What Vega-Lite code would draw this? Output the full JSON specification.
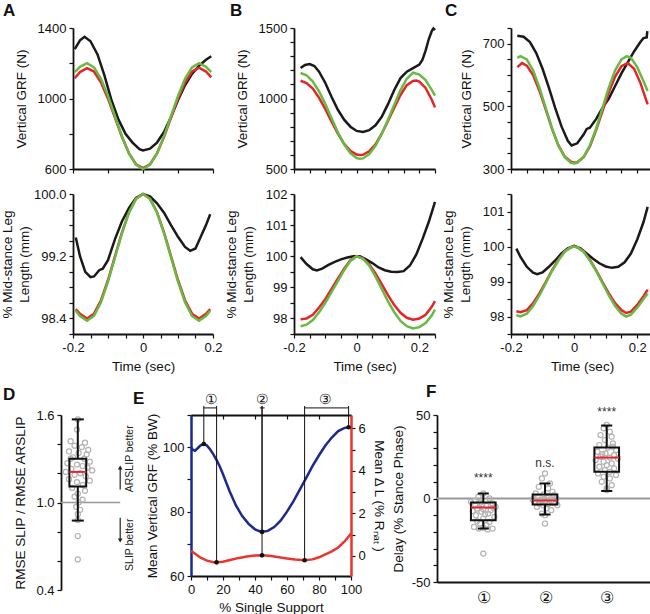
{
"$schema":"https://vega.github.io/schema/vega-lite/v6.json",
"padding":{"left":0,"top":2,"right":0,"bottom":0},
"config":{"font":"Liberation Sans","view":{"stroke":null},
"axis":{"grid":false,"domainColor":"#111","domainWidth":1.8,"tickColor":"#111","tickWidth":1.2,"tickSize":4,"labelFontSize":13,"labelColor":"#111","titleFontSize":13.5,"titleFontWeight":"normal","titleColor":"#111","labelOverlap":false,"labelFlush":false,"labelPadding":3,"titlePadding":8},
"title":{"fontSize":17,"fontWeight":"bold","anchor":"start","frame":"group","color":"#111"}},
"datasets":{"curves":[
{"p":"A","r":"g","s":"E","t":-0.195,"v":1280},{"p":"A","r":"g","s":"E","t":-0.18,"v":1330},{"p":"A","r":"g","s":"E","t":-0.167,"v":1350},{"p":"A","r":"g","s":"E","t":-0.15,"v":1325},{"p":"A","r":"g","s":"E","t":-0.13,"v":1250},{"p":"A","r":"g","s":"E","t":-0.11,"v":1130},{"p":"A","r":"g","s":"E","t":-0.09,"v":990},{"p":"A","r":"g","s":"E","t":-0.07,"v":880},{"p":"A","r":"g","s":"E","t":-0.05,"v":800},{"p":"A","r":"g","s":"E","t":-0.03,"v":750},{"p":"A","r":"g","s":"E","t":-0.01,"v":712},{"p":"A","r":"g","s":"E","t":0,"v":705},{"p":"A","r":"g","s":"E","t":0.02,"v":715},{"p":"A","r":"g","s":"E","t":0.04,"v":750},{"p":"A","r":"g","s":"E","t":0.06,"v":810},{"p":"A","r":"g","s":"E","t":0.08,"v":895},{"p":"A","r":"g","s":"E","t":0.1,"v":990},{"p":"A","r":"g","s":"E","t":0.12,"v":1075},{"p":"A","r":"g","s":"E","t":0.14,"v":1140},{"p":"A","r":"g","s":"E","t":0.16,"v":1185},{"p":"A","r":"g","s":"E","t":0.18,"v":1220},{"p":"A","r":"g","s":"E","t":0.195,"v":1240},
{"p":"A","r":"g","s":"R","t":-0.195,"v":1115},{"p":"A","r":"g","s":"R","t":-0.18,"v":1150},{"p":"A","r":"g","s":"R","t":-0.16,"v":1172},{"p":"A","r":"g","s":"R","t":-0.14,"v":1153},{"p":"A","r":"g","s":"R","t":-0.12,"v":1091},{"p":"A","r":"g","s":"R","t":-0.1,"v":999},{"p":"A","r":"g","s":"R","t":-0.08,"v":890},{"p":"A","r":"g","s":"R","t":-0.06,"v":781},{"p":"A","r":"g","s":"R","t":-0.04,"v":689},{"p":"A","r":"g","s":"R","t":-0.02,"v":627},{"p":"A","r":"g","s":"R","t":0,"v":605},{"p":"A","r":"g","s":"R","t":0.02,"v":627},{"p":"A","r":"g","s":"R","t":0.04,"v":689},{"p":"A","r":"g","s":"R","t":0.06,"v":781},{"p":"A","r":"g","s":"R","t":0.08,"v":890},{"p":"A","r":"g","s":"R","t":0.1,"v":999},{"p":"A","r":"g","s":"R","t":0.12,"v":1091},{"p":"A","r":"g","s":"R","t":0.14,"v":1153},{"p":"A","r":"g","s":"R","t":0.16,"v":1175},{"p":"A","r":"g","s":"R","t":0.18,"v":1153},{"p":"A","r":"g","s":"R","t":0.195,"v":1120},
{"p":"A","r":"g","s":"G","t":-0.195,"v":1150},{"p":"A","r":"g","s":"G","t":-0.18,"v":1180},{"p":"A","r":"g","s":"G","t":-0.16,"v":1200},{"p":"A","r":"g","s":"G","t":-0.14,"v":1177},{"p":"A","r":"g","s":"G","t":-0.12,"v":1112},{"p":"A","r":"g","s":"G","t":-0.1,"v":1015},{"p":"A","r":"g","s":"G","t":-0.08,"v":900},{"p":"A","r":"g","s":"G","t":-0.06,"v":785},{"p":"A","r":"g","s":"G","t":-0.04,"v":688},{"p":"A","r":"g","s":"G","t":-0.02,"v":623},{"p":"A","r":"g","s":"G","t":0,"v":600},{"p":"A","r":"g","s":"G","t":0.02,"v":623},{"p":"A","r":"g","s":"G","t":0.04,"v":688},{"p":"A","r":"g","s":"G","t":0.06,"v":785},{"p":"A","r":"g","s":"G","t":0.08,"v":900},{"p":"A","r":"g","s":"G","t":0.1,"v":1015},{"p":"A","r":"g","s":"G","t":0.12,"v":1112},{"p":"A","r":"g","s":"G","t":0.14,"v":1177},{"p":"A","r":"g","s":"G","t":0.16,"v":1200},{"p":"A","r":"g","s":"G","t":0.18,"v":1180},{"p":"A","r":"g","s":"G","t":0.195,"v":1150},
{"p":"A","r":"l","s":"E","t":-0.192,"v":99.44},{"p":"A","r":"l","s":"E","t":-0.18,"v":99.2},{"p":"A","r":"l","s":"E","t":-0.165,"v":99.0},{"p":"A","r":"l","s":"E","t":-0.15,"v":98.93},{"p":"A","r":"l","s":"E","t":-0.14,"v":98.94},{"p":"A","r":"l","s":"E","t":-0.125,"v":99.02},{"p":"A","r":"l","s":"E","t":-0.115,"v":99.04},{"p":"A","r":"l","s":"E","t":-0.1,"v":99.15},{"p":"A","r":"l","s":"E","t":-0.08,"v":99.42},{"p":"A","r":"l","s":"E","t":-0.06,"v":99.65},{"p":"A","r":"l","s":"E","t":-0.04,"v":99.82},{"p":"A","r":"l","s":"E","t":-0.02,"v":99.95},{"p":"A","r":"l","s":"E","t":0,"v":100.0},{"p":"A","r":"l","s":"E","t":0.02,"v":99.97},{"p":"A","r":"l","s":"E","t":0.04,"v":99.88},{"p":"A","r":"l","s":"E","t":0.06,"v":99.76},{"p":"A","r":"l","s":"E","t":0.08,"v":99.6},{"p":"A","r":"l","s":"E","t":0.1,"v":99.45},{"p":"A","r":"l","s":"E","t":0.12,"v":99.32},{"p":"A","r":"l","s":"E","t":0.135,"v":99.27},{"p":"A","r":"l","s":"E","t":0.15,"v":99.3},{"p":"A","r":"l","s":"E","t":0.165,"v":99.45},{"p":"A","r":"l","s":"E","t":0.18,"v":99.6},{"p":"A","r":"l","s":"E","t":0.192,"v":99.74},
{"p":"A","r":"l","s":"R","t":-0.192,"v":98.52},{"p":"A","r":"l","s":"R","t":-0.18,"v":98.46},{"p":"A","r":"l","s":"R","t":-0.16,"v":98.4},{"p":"A","r":"l","s":"R","t":-0.14,"v":98.461},{"p":"A","r":"l","s":"R","t":-0.12,"v":98.634},{"p":"A","r":"l","s":"R","t":-0.1,"v":98.894},{"p":"A","r":"l","s":"R","t":-0.08,"v":99.2},{"p":"A","r":"l","s":"R","t":-0.06,"v":99.506},{"p":"A","r":"l","s":"R","t":-0.04,"v":99.766},{"p":"A","r":"l","s":"R","t":-0.02,"v":99.939},{"p":"A","r":"l","s":"R","t":0,"v":100},{"p":"A","r":"l","s":"R","t":0.02,"v":99.939},{"p":"A","r":"l","s":"R","t":0.04,"v":99.766},{"p":"A","r":"l","s":"R","t":0.06,"v":99.506},{"p":"A","r":"l","s":"R","t":0.08,"v":99.2},{"p":"A","r":"l","s":"R","t":0.1,"v":98.894},{"p":"A","r":"l","s":"R","t":0.12,"v":98.634},{"p":"A","r":"l","s":"R","t":0.14,"v":98.461},{"p":"A","r":"l","s":"R","t":0.16,"v":98.4},{"p":"A","r":"l","s":"R","t":0.18,"v":98.46},{"p":"A","r":"l","s":"R","t":0.192,"v":98.52},
{"p":"A","r":"l","s":"G","t":-0.192,"v":98.5},{"p":"A","r":"l","s":"G","t":-0.18,"v":98.43},{"p":"A","r":"l","s":"G","t":-0.16,"v":98.37},{"p":"A","r":"l","s":"G","t":-0.14,"v":98.432},{"p":"A","r":"l","s":"G","t":-0.12,"v":98.609},{"p":"A","r":"l","s":"G","t":-0.1,"v":98.873},{"p":"A","r":"l","s":"G","t":-0.08,"v":99.185},{"p":"A","r":"l","s":"G","t":-0.06,"v":99.497},{"p":"A","r":"l","s":"G","t":-0.04,"v":99.761},{"p":"A","r":"l","s":"G","t":-0.02,"v":99.938},{"p":"A","r":"l","s":"G","t":0,"v":100},{"p":"A","r":"l","s":"G","t":0.02,"v":99.938},{"p":"A","r":"l","s":"G","t":0.04,"v":99.761},{"p":"A","r":"l","s":"G","t":0.06,"v":99.497},{"p":"A","r":"l","s":"G","t":0.08,"v":99.185},{"p":"A","r":"l","s":"G","t":0.1,"v":98.873},{"p":"A","r":"l","s":"G","t":0.12,"v":98.609},{"p":"A","r":"l","s":"G","t":0.14,"v":98.432},{"p":"A","r":"l","s":"G","t":0.16,"v":98.37},{"p":"A","r":"l","s":"G","t":0.18,"v":98.43},{"p":"A","r":"l","s":"G","t":0.192,"v":98.5},
{"p":"B","r":"g","s":"E","t":-0.179,"v":1216},{"p":"B","r":"g","s":"E","t":-0.165,"v":1238},{"p":"B","r":"g","s":"E","t":-0.15,"v":1244},{"p":"B","r":"g","s":"E","t":-0.135,"v":1230},{"p":"B","r":"g","s":"E","t":-0.12,"v":1190},{"p":"B","r":"g","s":"E","t":-0.1,"v":1110},{"p":"B","r":"g","s":"E","t":-0.08,"v":1010},{"p":"B","r":"g","s":"E","t":-0.06,"v":920},{"p":"B","r":"g","s":"E","t":-0.04,"v":850},{"p":"B","r":"g","s":"E","t":-0.02,"v":800},{"p":"B","r":"g","s":"E","t":0,"v":770},{"p":"B","r":"g","s":"E","t":0.02,"v":762},{"p":"B","r":"g","s":"E","t":0.04,"v":775},{"p":"B","r":"g","s":"E","t":0.06,"v":810},{"p":"B","r":"g","s":"E","t":0.08,"v":870},{"p":"B","r":"g","s":"E","t":0.1,"v":960},{"p":"B","r":"g","s":"E","t":0.12,"v":1060},{"p":"B","r":"g","s":"E","t":0.14,"v":1145},{"p":"B","r":"g","s":"E","t":0.16,"v":1190},{"p":"B","r":"g","s":"E","t":0.18,"v":1215},{"p":"B","r":"g","s":"E","t":0.2,"v":1240},{"p":"B","r":"g","s":"E","t":0.21,"v":1275},{"p":"B","r":"g","s":"E","t":0.22,"v":1340},{"p":"B","r":"g","s":"E","t":0.23,"v":1420},{"p":"B","r":"g","s":"E","t":0.24,"v":1480},{"p":"B","r":"g","s":"E","t":0.245,"v":1497},{"p":"B","r":"g","s":"E","t":0.25,"v":1485},
{"p":"B","r":"g","s":"R","t":-0.179,"v":1126},{"p":"B","r":"g","s":"R","t":-0.16,"v":1110},{"p":"B","r":"g","s":"R","t":-0.14,"v":1070},{"p":"B","r":"g","s":"R","t":-0.12,"v":1005},{"p":"B","r":"g","s":"R","t":-0.1,"v":925},{"p":"B","r":"g","s":"R","t":-0.08,"v":835},{"p":"B","r":"g","s":"R","t":-0.06,"v":750},{"p":"B","r":"g","s":"R","t":-0.04,"v":678},{"p":"B","r":"g","s":"R","t":-0.02,"v":628},{"p":"B","r":"g","s":"R","t":0,"v":603},{"p":"B","r":"g","s":"R","t":0.01,"v":599},{"p":"B","r":"g","s":"R","t":0.02,"v":601},{"p":"B","r":"g","s":"R","t":0.04,"v":625},{"p":"B","r":"g","s":"R","t":0.06,"v":675},{"p":"B","r":"g","s":"R","t":0.08,"v":750},{"p":"B","r":"g","s":"R","t":0.1,"v":840},{"p":"B","r":"g","s":"R","t":0.12,"v":935},{"p":"B","r":"g","s":"R","t":0.14,"v":1025},{"p":"B","r":"g","s":"R","t":0.16,"v":1095},{"p":"B","r":"g","s":"R","t":0.18,"v":1125},{"p":"B","r":"g","s":"R","t":0.19,"v":1127},{"p":"B","r":"g","s":"R","t":0.2,"v":1120},{"p":"B","r":"g","s":"R","t":0.22,"v":1075},{"p":"B","r":"g","s":"R","t":0.24,"v":990},{"p":"B","r":"g","s":"R","t":0.25,"v":937},
{"p":"B","r":"g","s":"G","t":-0.179,"v":1181},{"p":"B","r":"g","s":"G","t":-0.16,"v":1165},{"p":"B","r":"g","s":"G","t":-0.14,"v":1120},{"p":"B","r":"g","s":"G","t":-0.12,"v":1050},{"p":"B","r":"g","s":"G","t":-0.1,"v":960},{"p":"B","r":"g","s":"G","t":-0.08,"v":860},{"p":"B","r":"g","s":"G","t":-0.06,"v":760},{"p":"B","r":"g","s":"G","t":-0.04,"v":675},{"p":"B","r":"g","s":"G","t":-0.02,"v":612},{"p":"B","r":"g","s":"G","t":0,"v":578},{"p":"B","r":"g","s":"G","t":0.01,"v":572},{"p":"B","r":"g","s":"G","t":0.02,"v":575},{"p":"B","r":"g","s":"G","t":0.04,"v":605},{"p":"B","r":"g","s":"G","t":0.06,"v":665},{"p":"B","r":"g","s":"G","t":0.08,"v":750},{"p":"B","r":"g","s":"G","t":0.1,"v":850},{"p":"B","r":"g","s":"G","t":0.12,"v":955},{"p":"B","r":"g","s":"G","t":0.14,"v":1060},{"p":"B","r":"g","s":"G","t":0.16,"v":1140},{"p":"B","r":"g","s":"G","t":0.18,"v":1183},{"p":"B","r":"g","s":"G","t":0.2,"v":1170},{"p":"B","r":"g","s":"G","t":0.22,"v":1130},{"p":"B","r":"g","s":"G","t":0.24,"v":1060},{"p":"B","r":"g","s":"G","t":0.25,"v":1020},
{"p":"B","r":"l","s":"E","t":-0.179,"v":99.97},{"p":"B","r":"l","s":"E","t":-0.16,"v":99.75},{"p":"B","r":"l","s":"E","t":-0.14,"v":99.58},{"p":"B","r":"l","s":"E","t":-0.127,"v":99.54},{"p":"B","r":"l","s":"E","t":-0.11,"v":99.6},{"p":"B","r":"l","s":"E","t":-0.09,"v":99.72},{"p":"B","r":"l","s":"E","t":-0.07,"v":99.82},{"p":"B","r":"l","s":"E","t":-0.05,"v":99.9},{"p":"B","r":"l","s":"E","t":-0.03,"v":99.96},{"p":"B","r":"l","s":"E","t":-0.01,"v":100.0},{"p":"B","r":"l","s":"E","t":0.01,"v":100.0},{"p":"B","r":"l","s":"E","t":0.03,"v":99.9},{"p":"B","r":"l","s":"E","t":0.05,"v":99.78},{"p":"B","r":"l","s":"E","t":0.07,"v":99.64},{"p":"B","r":"l","s":"E","t":0.09,"v":99.55},{"p":"B","r":"l","s":"E","t":0.11,"v":99.5},{"p":"B","r":"l","s":"E","t":0.13,"v":99.49},{"p":"B","r":"l","s":"E","t":0.15,"v":99.52},{"p":"B","r":"l","s":"E","t":0.17,"v":99.7},{"p":"B","r":"l","s":"E","t":0.19,"v":100.05},{"p":"B","r":"l","s":"E","t":0.21,"v":100.55},{"p":"B","r":"l","s":"E","t":0.23,"v":101.1},{"p":"B","r":"l","s":"E","t":0.25,"v":101.75},
{"p":"B","r":"l","s":"R","t":-0.179,"v":97.97},{"p":"B","r":"l","s":"R","t":-0.16,"v":98.0},{"p":"B","r":"l","s":"R","t":-0.14,"v":98.12},{"p":"B","r":"l","s":"R","t":-0.12,"v":98.35},{"p":"B","r":"l","s":"R","t":-0.1,"v":98.62},{"p":"B","r":"l","s":"R","t":-0.08,"v":98.95},{"p":"B","r":"l","s":"R","t":-0.06,"v":99.28},{"p":"B","r":"l","s":"R","t":-0.04,"v":99.6},{"p":"B","r":"l","s":"R","t":-0.02,"v":99.87},{"p":"B","r":"l","s":"R","t":0,"v":100},{"p":"B","r":"l","s":"R","t":0.02,"v":99.93},{"p":"B","r":"l","s":"R","t":0.04,"v":99.74},{"p":"B","r":"l","s":"R","t":0.06,"v":99.45},{"p":"B","r":"l","s":"R","t":0.08,"v":99.1},{"p":"B","r":"l","s":"R","t":0.1,"v":98.75},{"p":"B","r":"l","s":"R","t":0.12,"v":98.43},{"p":"B","r":"l","s":"R","t":0.14,"v":98.18},{"p":"B","r":"l","s":"R","t":0.16,"v":98.02},{"p":"B","r":"l","s":"R","t":0.18,"v":97.96},{"p":"B","r":"l","s":"R","t":0.2,"v":98.0},{"p":"B","r":"l","s":"R","t":0.22,"v":98.12},{"p":"B","r":"l","s":"R","t":0.24,"v":98.38},{"p":"B","r":"l","s":"R","t":0.25,"v":98.56},
{"p":"B","r":"l","s":"G","t":-0.179,"v":97.75},{"p":"B","r":"l","s":"G","t":-0.16,"v":97.8},{"p":"B","r":"l","s":"G","t":-0.14,"v":97.95},{"p":"B","r":"l","s":"G","t":-0.12,"v":98.2},{"p":"B","r":"l","s":"G","t":-0.1,"v":98.5},{"p":"B","r":"l","s":"G","t":-0.08,"v":98.85},{"p":"B","r":"l","s":"G","t":-0.06,"v":99.2},{"p":"B","r":"l","s":"G","t":-0.04,"v":99.55},{"p":"B","r":"l","s":"G","t":-0.02,"v":99.85},{"p":"B","r":"l","s":"G","t":0,"v":100},{"p":"B","r":"l","s":"G","t":0.02,"v":99.92},{"p":"B","r":"l","s":"G","t":0.04,"v":99.7},{"p":"B","r":"l","s":"G","t":0.06,"v":99.35},{"p":"B","r":"l","s":"G","t":0.08,"v":98.95},{"p":"B","r":"l","s":"G","t":0.1,"v":98.55},{"p":"B","r":"l","s":"G","t":0.12,"v":98.2},{"p":"B","r":"l","s":"G","t":0.14,"v":97.92},{"p":"B","r":"l","s":"G","t":0.16,"v":97.75},{"p":"B","r":"l","s":"G","t":0.18,"v":97.68},{"p":"B","r":"l","s":"G","t":0.2,"v":97.72},{"p":"B","r":"l","s":"G","t":0.22,"v":97.85},{"p":"B","r":"l","s":"G","t":0.24,"v":98.1},{"p":"B","r":"l","s":"G","t":0.25,"v":98.28},
{"p":"C","r":"g","s":"E","t":-0.18,"v":725},{"p":"C","r":"g","s":"E","t":-0.16,"v":722},{"p":"C","r":"g","s":"E","t":-0.14,"v":705},{"p":"C","r":"g","s":"E","t":-0.12,"v":670},{"p":"C","r":"g","s":"E","t":-0.1,"v":620},{"p":"C","r":"g","s":"E","t":-0.08,"v":560},{"p":"C","r":"g","s":"E","t":-0.06,"v":495},{"p":"C","r":"g","s":"E","t":-0.04,"v":436},{"p":"C","r":"g","s":"E","t":-0.02,"v":390},{"p":"C","r":"g","s":"E","t":-0.008,"v":375},{"p":"C","r":"g","s":"E","t":0.01,"v":382},{"p":"C","r":"g","s":"E","t":0.03,"v":410},{"p":"C","r":"g","s":"E","t":0.04,"v":428},{"p":"C","r":"g","s":"E","t":0.05,"v":432},{"p":"C","r":"g","s":"E","t":0.07,"v":460},{"p":"C","r":"g","s":"E","t":0.09,"v":495},{"p":"C","r":"g","s":"E","t":0.11,"v":525},{"p":"C","r":"g","s":"E","t":0.13,"v":565},{"p":"C","r":"g","s":"E","t":0.15,"v":605},{"p":"C","r":"g","s":"E","t":0.17,"v":640},{"p":"C","r":"g","s":"E","t":0.19,"v":675},{"p":"C","r":"g","s":"E","t":0.21,"v":705},{"p":"C","r":"g","s":"E","t":0.22,"v":718},{"p":"C","r":"g","s":"E","t":0.23,"v":720},{"p":"C","r":"g","s":"E","t":0.232,"v":740},
{"p":"C","r":"g","s":"R","t":-0.18,"v":625},{"p":"C","r":"g","s":"R","t":-0.165,"v":638},{"p":"C","r":"g","s":"R","t":-0.15,"v":630},{"p":"C","r":"g","s":"R","t":-0.13,"v":600},{"p":"C","r":"g","s":"R","t":-0.11,"v":550},{"p":"C","r":"g","s":"R","t":-0.09,"v":490},{"p":"C","r":"g","s":"R","t":-0.07,"v":428},{"p":"C","r":"g","s":"R","t":-0.05,"v":376},{"p":"C","r":"g","s":"R","t":-0.03,"v":340},{"p":"C","r":"g","s":"R","t":-0.01,"v":323},{"p":"C","r":"g","s":"R","t":0,"v":320},{"p":"C","r":"g","s":"R","t":0.01,"v":322},{"p":"C","r":"g","s":"R","t":0.03,"v":338},{"p":"C","r":"g","s":"R","t":0.05,"v":372},{"p":"C","r":"g","s":"R","t":0.07,"v":425},{"p":"C","r":"g","s":"R","t":0.09,"v":485},{"p":"C","r":"g","s":"R","t":0.11,"v":545},{"p":"C","r":"g","s":"R","t":0.13,"v":595},{"p":"C","r":"g","s":"R","t":0.15,"v":628},{"p":"C","r":"g","s":"R","t":0.17,"v":638},{"p":"C","r":"g","s":"R","t":0.19,"v":620},{"p":"C","r":"g","s":"R","t":0.21,"v":575},{"p":"C","r":"g","s":"R","t":0.233,"v":506},
{"p":"C","r":"g","s":"G","t":-0.18,"v":655},{"p":"C","r":"g","s":"G","t":-0.17,"v":660},{"p":"C","r":"g","s":"G","t":-0.15,"v":650},{"p":"C","r":"g","s":"G","t":-0.13,"v":615},{"p":"C","r":"g","s":"G","t":-0.11,"v":560},{"p":"C","r":"g","s":"G","t":-0.09,"v":495},{"p":"C","r":"g","s":"G","t":-0.07,"v":430},{"p":"C","r":"g","s":"G","t":-0.05,"v":375},{"p":"C","r":"g","s":"G","t":-0.03,"v":338},{"p":"C","r":"g","s":"G","t":-0.01,"v":320},{"p":"C","r":"g","s":"G","t":0,"v":318},{"p":"C","r":"g","s":"G","t":0.01,"v":320},{"p":"C","r":"g","s":"G","t":0.03,"v":338},{"p":"C","r":"g","s":"G","t":0.05,"v":375},{"p":"C","r":"g","s":"G","t":0.07,"v":430},{"p":"C","r":"g","s":"G","t":0.09,"v":495},{"p":"C","r":"g","s":"G","t":0.11,"v":560},{"p":"C","r":"g","s":"G","t":0.13,"v":615},{"p":"C","r":"g","s":"G","t":0.15,"v":650},{"p":"C","r":"g","s":"G","t":0.167,"v":660},{"p":"C","r":"g","s":"G","t":0.18,"v":655},{"p":"C","r":"g","s":"G","t":0.2,"v":625},{"p":"C","r":"g","s":"G","t":0.22,"v":580},{"p":"C","r":"g","s":"G","t":0.233,"v":549},
{"p":"C","r":"l","s":"E","t":-0.183,"v":99.94},{"p":"C","r":"l","s":"E","t":-0.17,"v":99.7},{"p":"C","r":"l","s":"E","t":-0.15,"v":99.42},{"p":"C","r":"l","s":"E","t":-0.13,"v":99.25},{"p":"C","r":"l","s":"E","t":-0.117,"v":99.21},{"p":"C","r":"l","s":"E","t":-0.1,"v":99.26},{"p":"C","r":"l","s":"E","t":-0.08,"v":99.42},{"p":"C","r":"l","s":"E","t":-0.06,"v":99.6},{"p":"C","r":"l","s":"E","t":-0.04,"v":99.8},{"p":"C","r":"l","s":"E","t":-0.02,"v":99.95},{"p":"C","r":"l","s":"E","t":0,"v":100.02},{"p":"C","r":"l","s":"E","t":0.02,"v":99.95},{"p":"C","r":"l","s":"E","t":0.04,"v":99.8},{"p":"C","r":"l","s":"E","t":0.06,"v":99.65},{"p":"C","r":"l","s":"E","t":0.08,"v":99.52},{"p":"C","r":"l","s":"E","t":0.1,"v":99.43},{"p":"C","r":"l","s":"E","t":0.12,"v":99.39},{"p":"C","r":"l","s":"E","t":0.14,"v":99.42},{"p":"C","r":"l","s":"E","t":0.16,"v":99.55},{"p":"C","r":"l","s":"E","t":0.18,"v":99.8},{"p":"C","r":"l","s":"E","t":0.2,"v":100.2},{"p":"C","r":"l","s":"E","t":0.22,"v":100.7},{"p":"C","r":"l","s":"E","t":0.233,"v":101.13},
{"p":"C","r":"l","s":"R","t":-0.183,"v":98.15},{"p":"C","r":"l","s":"R","t":-0.17,"v":98.12},{"p":"C","r":"l","s":"R","t":-0.15,"v":98.18},{"p":"C","r":"l","s":"R","t":-0.13,"v":98.38},{"p":"C","r":"l","s":"R","t":-0.11,"v":98.66},{"p":"C","r":"l","s":"R","t":-0.09,"v":98.98},{"p":"C","r":"l","s":"R","t":-0.07,"v":99.32},{"p":"C","r":"l","s":"R","t":-0.05,"v":99.62},{"p":"C","r":"l","s":"R","t":-0.03,"v":99.86},{"p":"C","r":"l","s":"R","t":-0.01,"v":99.98},{"p":"C","r":"l","s":"R","t":0,"v":100},{"p":"C","r":"l","s":"R","t":0.01,"v":99.98},{"p":"C","r":"l","s":"R","t":0.03,"v":99.86},{"p":"C","r":"l","s":"R","t":0.05,"v":99.62},{"p":"C","r":"l","s":"R","t":0.07,"v":99.32},{"p":"C","r":"l","s":"R","t":0.09,"v":98.98},{"p":"C","r":"l","s":"R","t":0.11,"v":98.66},{"p":"C","r":"l","s":"R","t":0.13,"v":98.38},{"p":"C","r":"l","s":"R","t":0.15,"v":98.18},{"p":"C","r":"l","s":"R","t":0.165,"v":98.1},{"p":"C","r":"l","s":"R","t":0.18,"v":98.14},{"p":"C","r":"l","s":"R","t":0.2,"v":98.33},{"p":"C","r":"l","s":"R","t":0.22,"v":98.58},{"p":"C","r":"l","s":"R","t":0.233,"v":98.77},
{"p":"C","r":"l","s":"G","t":-0.183,"v":98.04},{"p":"C","r":"l","s":"G","t":-0.17,"v":98.0},{"p":"C","r":"l","s":"G","t":-0.15,"v":98.08},{"p":"C","r":"l","s":"G","t":-0.13,"v":98.3},{"p":"C","r":"l","s":"G","t":-0.11,"v":98.6},{"p":"C","r":"l","s":"G","t":-0.09,"v":98.95},{"p":"C","r":"l","s":"G","t":-0.07,"v":99.3},{"p":"C","r":"l","s":"G","t":-0.05,"v":99.6},{"p":"C","r":"l","s":"G","t":-0.03,"v":99.85},{"p":"C","r":"l","s":"G","t":-0.01,"v":99.98},{"p":"C","r":"l","s":"G","t":0,"v":100},{"p":"C","r":"l","s":"G","t":0.01,"v":99.98},{"p":"C","r":"l","s":"G","t":0.03,"v":99.85},{"p":"C","r":"l","s":"G","t":0.05,"v":99.6},{"p":"C","r":"l","s":"G","t":0.07,"v":99.3},{"p":"C","r":"l","s":"G","t":0.09,"v":98.95},{"p":"C","r":"l","s":"G","t":0.11,"v":98.6},{"p":"C","r":"l","s":"G","t":0.13,"v":98.3},{"p":"C","r":"l","s":"G","t":0.15,"v":98.08},{"p":"C","r":"l","s":"G","t":0.165,"v":98.0},{"p":"C","r":"l","s":"G","t":0.18,"v":98.05},{"p":"C","r":"l","s":"G","t":0.2,"v":98.25},{"p":"C","r":"l","s":"G","t":0.22,"v":98.5},{"p":"C","r":"l","s":"G","t":0.233,"v":98.66}
]},
"spacing":9,
"bounds":"full",
"vconcat":[
{"columns":6,"spacing":{"row":25,"column":0},"bounds":"flush","concat":[
{"width":12,"height":141,"data":{"values":[{}]},"mark":"text","encoding":{"text":{"value":""}}},
{"width":140,"height":141,"title":{"text":"A","dx":-70,"offset":2},"data":{"name":"curves"},"transform":[{"filter":"datum.p=='A'&&datum.r=='g'"}],"mark":{"type":"line","strokeWidth":2.5},
"encoding":{"x":{"field":"t","type":"quantitative","scale":{"domain":[-0.2,0.2],"nice":false,"zero":false},"axis":{"values":[-0.2,-0.1,0,0.1,0.2],"labels":false,"title":null}},
"y":{"field":"v","type":"quantitative","scale":{"domain":[600,1400],"nice":false,"zero":false},"axis":{"values":[600,800,1000,1200,1400],"format":"d","labelExpr":"datum.value%400==0?'':datum.label","title":"Vertical GRF (N)","titlePadding":9}},
"color":{"field":"s","type":"nominal","scale":{"domain":["E","R","G"],"range":["#1a1a1a","#e4252a","#66bb44"]},"legend":null}}},
{"width":81,"height":141,"data":{"values":[{}]},"mark":"text","encoding":{"text":{"value":""}}},
{"width":141,"height":141,"title":{"text":"B","dx":-64,"offset":2},"data":{"name":"curves"},"transform":[{"filter":"datum.p=='B'&&datum.r=='g'"}],"mark":{"type":"line","strokeWidth":2.5},
"encoding":{"x":{"field":"t","type":"quantitative","scale":{"domain":[-0.2,0.25],"nice":false,"zero":false},"axis":{"values":[-0.2,-0.15,-0.1,-0.05,0,0.05,0.1,0.15,0.2,0.25],"labels":false,"title":null}},
"y":{"field":"v","type":"quantitative","scale":{"domain":[500,1500],"nice":false,"zero":false},"axis":{"values":[500,600,700,800,900,1000,1100,1200,1300,1400,1500],"format":"d","labelExpr":"datum.value%500==0?datum.label:''","title":"Vertical GRF (N)","titlePadding":9}},
"color":{"field":"s","type":"nominal","scale":{"domain":["E","R","G"],"range":["#1a1a1a","#e4252a","#66bb44"]},"legend":null}}},
{"width":76,"height":141,"data":{"values":[{}]},"mark":"text","encoding":{"text":{"value":""}}},
{"width":142,"height":141,"title":{"text":"C","dx":-66,"offset":2},"data":{"name":"curves"},"transform":[{"filter":"datum.p=='C'&&datum.r=='g'"}],"mark":{"type":"line","strokeWidth":2.5},
"encoding":{"x":{"field":"t","type":"quantitative","scale":{"domain":[-0.2,0.25],"nice":false,"zero":false},"axis":{"values":[-0.2,-0.15,-0.1,-0.05,0,0.05,0.1,0.15,0.2,0.25],"labels":false,"title":null}},
"y":{"field":"v","type":"quantitative","scale":{"domain":[300,750],"nice":false,"zero":false},"axis":{"values":[300,350,400,450,500,550,600,650,700,750],"format":"d","labelExpr":"(datum.value-300)%200==0?datum.label:''","title":"Vertical GRF (N)","titlePadding":9}},
"color":{"field":"s","type":"nominal","scale":{"domain":["E","R","G"],"range":["#1a1a1a","#e4252a","#66bb44"]},"legend":null}}},
{"width":12,"height":140,"data":{"values":[{}]},"mark":"text","encoding":{"text":{"value":""}}},
{"width":140,"height":140,"data":{"name":"curves"},"transform":[{"filter":"datum.p=='A'&&datum.r=='l'"}],"mark":{"type":"line","strokeWidth":2.5},
"encoding":{"x":{"field":"t","type":"quantitative","scale":{"domain":[-0.2,0.2],"nice":false,"zero":false},"axis":{"values":[-0.2,-0.15,-0.1,-0.05,0,0.05,0.1,0.15,0.2],"labelExpr":"abs(datum.value)<1e-6?'0':abs(datum.value+0.2)<1e-6?'-0.2':abs(datum.value-0.2)<1e-6?'0.2':''","title":"Time (sec)","titlePadding":5}},
"y":{"field":"v","type":"quantitative","scale":{"domain":[98.2,100],"nice":false,"zero":false},"axis":{"values":[98.2,98.4,98.6,98.8,99,99.2,99.4,99.6,99.8,100],"labelExpr":"abs(datum.value-98.4)<1e-6||abs(datum.value-99.2)<1e-6||abs(datum.value-100)<1e-6?format(datum.value,'.1f'):''","title":["% Mid-stance Leg","Length (mm)"],"titleLineHeight":17,"titlePadding":2}},
"color":{"field":"s","type":"nominal","scale":{"domain":["E","R","G"],"range":["#1a1a1a","#e4252a","#66bb44"]},"legend":null}}},
{"width":81,"height":140,"data":{"values":[{}]},"mark":"text","encoding":{"text":{"value":""}}},
{"width":141,"height":140,"data":{"name":"curves"},"transform":[{"filter":"datum.p=='B'&&datum.r=='l'"}],"mark":{"type":"line","strokeWidth":2.5},
"encoding":{"x":{"field":"t","type":"quantitative","scale":{"domain":[-0.2,0.25],"nice":false,"zero":false},"axis":{"values":[-0.2,-0.15,-0.1,-0.05,0,0.05,0.1,0.15,0.2,0.25],"labelExpr":"abs(datum.value)<1e-6?'0':abs(datum.value+0.2)<1e-6?'-0.2':abs(datum.value-0.2)<1e-6?'0.2':''","title":"Time (sec)","titlePadding":5}},
"y":{"field":"v","type":"quantitative","scale":{"domain":[97.5,102],"nice":false,"zero":false},"axis":{"values":[97.5,98,98.5,99,99.5,100,100.5,101,101.5,102],"labelExpr":"abs(datum.value-round(datum.value))<1e-6?format(datum.value,'d'):''","title":["% Mid-stance Leg","Length (mm)"],"titleLineHeight":17,"titlePadding":10}},
"color":{"field":"s","type":"nominal","scale":{"domain":["E","R","G"],"range":["#1a1a1a","#e4252a","#66bb44"]},"legend":null}}},
{"width":76,"height":140,"data":{"values":[{}]},"mark":"text","encoding":{"text":{"value":""}}},
{"width":142,"height":140,"data":{"name":"curves"},"transform":[{"filter":"datum.p=='C'&&datum.r=='l'"}],"mark":{"type":"line","strokeWidth":2.5},
"encoding":{"x":{"field":"t","type":"quantitative","scale":{"domain":[-0.2,0.25],"nice":false,"zero":false},"axis":{"values":[-0.2,-0.15,-0.1,-0.05,0,0.05,0.1,0.15,0.2,0.25],"labelExpr":"abs(datum.value)<1e-6?'0':abs(datum.value+0.2)<1e-6?'-0.2':abs(datum.value-0.2)<1e-6?'0.2':''","title":"Time (sec)","titlePadding":5}},
"y":{"field":"v","type":"quantitative","scale":{"domain":[97.5,101.5],"nice":false,"zero":false},"axis":{"values":[97.5,98,98.5,99,99.5,100,100.5,101,101.5],"labelExpr":"abs(datum.value-round(datum.value))<1e-6?format(datum.value,'d'):''","title":["% Mid-stance Leg","Length (mm)"],"titleLineHeight":17,"titlePadding":10}},
"color":{"field":"s","type":"nominal","scale":{"domain":["E","R","G"],"range":["#1a1a1a","#e4252a","#66bb44"]},"legend":null}}}
]},
{"spacing":0,"bounds":"flush","hconcat":[
{"width":80,"height":175,"title":{"text":"D","dx":-58,"offset":5},
"encoding":{"x":{"field":"x","type":"quantitative","scale":{"domain":[0,1],"nice":false,"zero":false},"axis":null},
"y":{"field":"y","type":"quantitative","scale":{"domain":[0.4,1.6],"nice":false,"zero":false},"axis":{"values":[0.4,0.6,0.8,1.0,1.2,1.4,1.6],"labelExpr":"abs(datum.value-0.4)<1e-6||abs(datum.value-1)<1e-6||abs(datum.value-1.6)<1e-6?format(datum.value,'.1f'):''","title":"RMSE SLIP / RMSE ARSLIP","titlePadding":8}}},
"layer":[
{"data":{"values":[{"x":0,"x2":0.74,"y":1}]},"mark":{"type":"rule","color":"#999999","strokeWidth":1.5},"encoding":{"x2":{"field":"x2"}}},
{"data":{"values":[{"x":0.21,"y":1.57},{"x":0.2,"y":1.5},{"x":0.12,"y":1.42},{"x":0.3,"y":1.41},{"x":0.17,"y":1.39},{"x":0.26,"y":1.38},{"x":0.34,"y":1.36},{"x":0.1,"y":1.35},{"x":0.22,"y":1.34},{"x":0.15,"y":1.31},{"x":0.29,"y":1.3},{"x":0.36,"y":1.28},{"x":0.08,"y":1.27},{"x":0.2,"y":1.26},{"x":0.27,"y":1.25},{"x":0.33,"y":1.24},{"x":0.13,"y":1.23},{"x":0.39,"y":1.22},{"x":0.06,"y":1.21},{"x":0.24,"y":1.2},{"x":0.17,"y":1.19},{"x":0.31,"y":1.18},{"x":0.1,"y":1.16},{"x":0.36,"y":1.15},{"x":0.2,"y":1.14},{"x":0.27,"y":1.12},{"x":0.14,"y":1.1},{"x":0.3,"y":1.08},{"x":0.21,"y":1.06},{"x":0.17,"y":1.04},{"x":0.27,"y":1.02},{"x":0.22,"y":1.0},{"x":0.19,"y":0.97},{"x":0.24,"y":0.95},{"x":0.21,"y":0.92},{"x":0.21,"y":0.88},{"x":0.21,"y":0.77},{"x":0.21,"y":0.61},{"x":0.12,"y":1.3},{"x":0.32,"y":1.33}]},
"mark":{"type":"point","shape":"circle","color":"#b3b3b3","size":26,"strokeWidth":1.2,"opacity":1}},
{"data":{"values":[{"x":0.21,"y":1.3,"y2":1.57},{"x":0.21,"y":0.876,"y2":1.11}]},"mark":{"type":"rule","color":"#111","strokeWidth":2},"encoding":{"y2":{"field":"y2"}}},
{"data":{"values":[{"x":0.135,"x2":0.285,"y":1.57},{"x":0.135,"x2":0.285,"y":0.876}]},"mark":{"type":"rule","color":"#111","strokeWidth":2},"encoding":{"x2":{"field":"x2"}}},
{"data":{"values":[{"x":0.105,"x2":0.315,"y":1.11,"y2":1.3}]},"mark":{"type":"rect","fill":"transparent","stroke":"#111","strokeWidth":2},"encoding":{"x2":{"field":"x2"},"y2":{"field":"y2"}}},
{"data":{"values":[{"x":0.105,"x2":0.315,"y":1.21}]},"mark":{"type":"rule","color":"#e4252a","strokeWidth":2},"encoding":{"x2":{"field":"x2"}}},
{"data":{"values":[{"x":0.74,"y":1.09,"y2":1.235},{"x":0.74,"y":0.896,"y2":0.745}]},"mark":{"type":"rule","color":"#222","strokeWidth":1.2},"encoding":{"y2":{"field":"y2"}}},
{"data":{"values":[{"x":0.74,"y":1.24,"sh":"triangle-up"},{"x":0.74,"y":0.74,"sh":"triangle-down"}]},"mark":{"type":"point","filled":true,"color":"#222","size":22,"opacity":1},"encoding":{"shape":{"field":"sh","type":"nominal","scale":null}}},
{"data":{"values":[{"x":0.865,"y":1.3,"t":"ARSLIP better"},{"x":0.865,"y":0.71,"t":"SLIP better"}]},"mark":{"type":"text","angle":270,"fontSize":10.5,"align":"center","baseline":"middle","color":"#222"},"encoding":{"text":{"field":"t"}}}
]},
{"width":50,"height":175,"data":{"values":[{}]},"mark":"text","encoding":{"text":{"value":""}}},
{"width":160,"height":161,"title":{"text":"E","dx":-58,"dy":20,"offset":5},
"layer":[
{"encoding":{"x":{"field":"x","type":"quantitative","scale":{"domain":[0,100],"nice":false,"zero":false},"axis":{"values":[0,10,20,30,40,50,60,70,80,90,100],"labelExpr":"datum.value%20==0?datum.label:''","title":"% Single Support","titlePadding":4}},
"y":{"field":"y","type":"quantitative","scale":{"domain":[60,110],"nice":false,"zero":false},"axis":{"values":[60,70,80,90,100,110],"labelExpr":"datum.value%20==0?datum.label:''","title":"Mean Vertical GRF (% BW)","titlePadding":3,"domainColor":"#1b2a8c","domainWidth":2.5}}},
"layer":[
{"data":{"values":[{"x":0,"y":100},{"x":1,"y":99.2},{"x":2.5,"y":98.9},{"x":4,"y":99.6},{"x":6,"y":100.6},{"x":8,"y":101},{"x":10,"y":100.5},{"x":12,"y":99.3},{"x":14,"y":97.8},{"x":16,"y":96},{"x":18,"y":94},{"x":20,"y":91.6},{"x":24,"y":86.5},{"x":28,"y":82},{"x":32,"y":78.6},{"x":36,"y":76.2},{"x":40,"y":74.5},{"x":44,"y":73.7},{"x":48,"y":74},{"x":52,"y":75.2},{"x":56,"y":77.2},{"x":60,"y":80},{"x":64,"y":83.2},{"x":68,"y":86.8},{"x":72,"y":90.5},{"x":76,"y":94.2},{"x":80,"y":97.5},{"x":84,"y":100.5},{"x":88,"y":103},{"x":92,"y":105},{"x":96,"y":106},{"x":99,"y":106.2}]},"mark":{"type":"line","color":"#1b2a8c","strokeWidth":2.5}},
{"data":{"values":[{"x":8,"y":112.8,"y2":101},{"x":44.4,"y":112.8,"y2":73.7},{"x":98.5,"y":112.8,"y2":106.2}]},"mark":{"type":"rule","color":"#111","strokeWidth":1},"encoding":{"y2":{"field":"y2"}}},
{"data":{"values":[{"x":8,"x2":16,"y":112.2},{"x":43,"x2":46,"y":112.2},{"x":71,"x2":98.5,"y":112.2}]},"mark":{"type":"rule","color":"#111","strokeWidth":1},"encoding":{"x2":{"field":"x2"}}},
{"data":{"values":[{"x":8,"y":101},{"x":44.4,"y":73.7},{"x":98.5,"y":106.2}]},"mark":{"type":"point","filled":true,"color":"#111","size":22,"opacity":1}},
{"data":{"values":[{"x":12.5,"y":114.7,"t":"①"},{"x":44.4,"y":114.7,"t":"②"},{"x":84,"y":114.7,"t":"③"}]},"mark":{"type":"text","fontSize":14,"baseline":"middle","align":"center","color":"#111"},"encoding":{"text":{"field":"t"}}}
]},
{"encoding":{"x":{"field":"x","type":"quantitative","scale":{"domain":[0,100],"nice":false,"zero":false},"axis":{"orient":"top","values":[0,20,40,60,80,100],"labels":false,"title":null,"tickSize":-4}},
"y":{"field":"y","type":"quantitative","scale":{"domain":[-0.94,6.62],"nice":false,"zero":false},"axis":{"orient":"right","values":[0,1,2,3,4,5,6],"labelExpr":"datum.value%2==0?datum.label:''","title":"Mean Δ L (% Rₙₐₜ )","titlePadding":6,"domainColor":"#e8362f","domainWidth":2.5}}},
"layer":[
{"data":{"values":[{"x":0,"y":0.25},{"x":3,"y":0.08},{"x":6,"y":-0.08},{"x":10,"y":-0.22},{"x":14,"y":-0.29},{"x":16,"y":-0.3},{"x":20,"y":-0.27},{"x":25,"y":-0.18},{"x":30,"y":-0.09},{"x":35,"y":-0.02},{"x":40,"y":0.02},{"x":45,"y":0.03},{"x":50,"y":0},{"x":55,"y":-0.06},{"x":60,"y":-0.12},{"x":65,"y":-0.17},{"x":71,"y":-0.2},{"x":76,"y":-0.16},{"x":80,"y":-0.06},{"x":84,"y":0.08},{"x":88,"y":0.22},{"x":92,"y":0.4},{"x":96,"y":0.68},{"x":100,"y":1.05}]},"mark":{"type":"line","color":"#e8362f","strokeWidth":2.5}},
{"data":{"values":[{"x":16,"y":7.04,"y2":-0.3},{"x":44.4,"y":7.04,"y2":0.03},{"x":71,"y":7.04,"y2":-0.2}]},"mark":{"type":"rule","color":"#111","strokeWidth":1},"encoding":{"y2":{"field":"y2"}}},
{"data":{"values":[{"x":16,"y":-0.3},{"x":44.4,"y":0.03},{"x":71,"y":-0.2}]},"mark":{"type":"point","filled":true,"color":"#111","size":22,"opacity":1}}
]}
],
"resolve":{"scale":{"y":"independent"},"axis":{"x":"independent"}}},
{"width":86,"height":175,"data":{"values":[{}]},"mark":"text","encoding":{"text":{"value":""}}},
{"width":216,"height":167,"title":{"text":"F","dx":-11,"offset":5},
"encoding":{"x":{"field":"x","type":"quantitative","scale":{"domain":[0.25,3.75],"nice":false,"zero":false},"axis":{"values":[1,2,3],"labelExpr":"datum.value==1?'①':datum.value==2?'②':'③'","ticks":false,"title":null,"labelFontSize":16,"labelPadding":7}},
"y":{"field":"y","type":"quantitative","scale":{"domain":[-50,50],"nice":false,"zero":false},"axis":{"values":[-50,-40,-30,-20,-10,0,10,20,30,40,50],"labelExpr":"datum.value==50?'50':datum.value==0?'0':datum.value==-50?'-50':''","title":"Delay (% Stance Phase)","titlePadding":6}}},
"layer":[
{"data":{"values":[{"x":0.25,"x2":3.75,"y":0}]},"mark":{"type":"rule","color":"#999999","strokeWidth":2},"encoding":{"x2":{"field":"x2"}}},
{"data":{"values":[{"x":1.0,"y":3},{"x":0.92,"y":1},{"x":1.1,"y":0},{"x":0.8,"y":-2},{"x":0.95,"y":-2.5},{"x":1.15,"y":-3},{"x":0.87,"y":-4},{"x":1.05,"y":-4.5},{"x":1.2,"y":-5},{"x":0.9,"y":-6},{"x":1.0,"y":-6.5},{"x":1.12,"y":-7},{"x":0.83,"y":-7.5},{"x":0.97,"y":-8},{"x":1.08,"y":-9},{"x":0.88,"y":-10},{"x":1.18,"y":-11},{"x":1.0,"y":-12},{"x":0.9,"y":-13.5},{"x":1.1,"y":-14},{"x":0.95,"y":-15},{"x":1.05,"y":-16},{"x":0.85,"y":-17},{"x":1.0,"y":-17.5},{"x":0.93,"y":-18},{"x":1.15,"y":-18},{"x":1.07,"y":-18.5},{"x":1.0,"y":-33},{"x":0.86,"y":-1.5},{"x":1.16,"y":-5.5},{"x":0.98,"y":-3.5},{"x":1.03,"y":-9.5},
{"x":2.0,"y":15},{"x":1.95,"y":12},{"x":2.08,"y":9},{"x":1.9,"y":7},{"x":2.05,"y":6},{"x":2.12,"y":4},{"x":1.85,"y":3},{"x":1.98,"y":2.5},{"x":2.15,"y":2},{"x":1.88,"y":1},{"x":2.03,"y":0.5},{"x":2.18,"y":0},{"x":1.8,"y":-0.5},{"x":1.95,"y":-1},{"x":2.1,"y":-1.5},{"x":1.84,"y":-2},{"x":2.0,"y":-2},{"x":2.14,"y":-2.5},{"x":1.9,"y":-3},{"x":2.05,"y":-3.5},{"x":1.97,"y":-4},{"x":2.2,"y":-4},{"x":1.87,"y":-5},{"x":2.02,"y":-6},{"x":2.1,"y":-7},{"x":1.95,"y":-9},{"x":2.0,"y":-10},{"x":2.0,"y":-15},{"x":2.06,"y":1.5},{"x":1.92,"y":-1.2},
{"x":3.0,"y":44},{"x":2.95,"y":42},{"x":3.05,"y":40},{"x":2.9,"y":38},{"x":3.08,"y":37},{"x":2.97,"y":35},{"x":3.1,"y":33},{"x":2.88,"y":32},{"x":3.02,"y":30.5},{"x":3.15,"y":29},{"x":2.85,"y":28},{"x":2.98,"y":27},{"x":3.12,"y":26},{"x":2.9,"y":25},{"x":3.05,"y":24.5},{"x":3.18,"y":24},{"x":2.82,"y":23},{"x":2.95,"y":22},{"x":3.08,"y":21},{"x":3.0,"y":20},{"x":2.88,"y":19},{"x":3.12,"y":18},{"x":2.97,"y":17},{"x":3.05,"y":16},{"x":2.86,"y":15},{"x":3.15,"y":14},{"x":2.95,"y":13},{"x":3.05,"y":12},{"x":2.92,"y":10},{"x":3.08,"y":8},{"x":3.0,"y":6},{"x":3.0,"y":5},{"x":3.1,"y":31},{"x":2.93,"y":26.5}]},
"mark":{"type":"point","shape":"circle","color":"#b3b3b3","size":26,"strokeWidth":1.2,"opacity":1}},
{"data":{"values":[{"x":1,"y":-2.4,"y2":3},{"x":1,"y":-18,"y2":-13},{"x":2,"y":2.4,"y2":9},{"x":2,"y":-9.6,"y2":-3.6},{"x":3,"y":30.5,"y2":43.7},{"x":3,"y":4.5,"y2":16}]},"mark":{"type":"rule","color":"#111","strokeWidth":2},"encoding":{"y2":{"field":"y2"}}},
{"data":{"values":[{"x":0.91,"x2":1.09,"y":3},{"x":0.91,"x2":1.09,"y":-18},{"x":1.91,"x2":2.09,"y":9},{"x":1.91,"x2":2.09,"y":-9.6},{"x":2.91,"x2":3.09,"y":43.7},{"x":2.91,"x2":3.09,"y":4.5}]},"mark":{"type":"rule","color":"#111","strokeWidth":2},"encoding":{"x2":{"field":"x2"}}},
{"data":{"values":[{"x":0.8,"x2":1.2,"y":-13,"y2":-2.4},{"x":1.8,"x2":2.2,"y":-3.6,"y2":2.4},{"x":2.8,"x2":3.2,"y":16,"y2":30.5}]},"mark":{"type":"rect","fill":"transparent","stroke":"#111","strokeWidth":2},"encoding":{"x2":{"field":"x2"},"y2":{"field":"y2"}}},
{"data":{"values":[{"x":0.8,"x2":1.2,"y":-5.4},{"x":1.8,"x2":2.2,"y":-1.2},{"x":2.8,"x2":3.2,"y":24.5}]},"mark":{"type":"rule","color":"#e4252a","strokeWidth":2},"encoding":{"x2":{"field":"x2"}}},
{"data":{"values":[{"x":1,"y":12,"t":"****"},{"x":2,"y":21,"t":"n.s."},{"x":3,"y":52,"t":"****"}]},"mark":{"type":"text","fontSize":12,"baseline":"middle","align":"center","color":"#333"},"encoding":{"text":{"field":"t"}}}
]}
]}
]
}
